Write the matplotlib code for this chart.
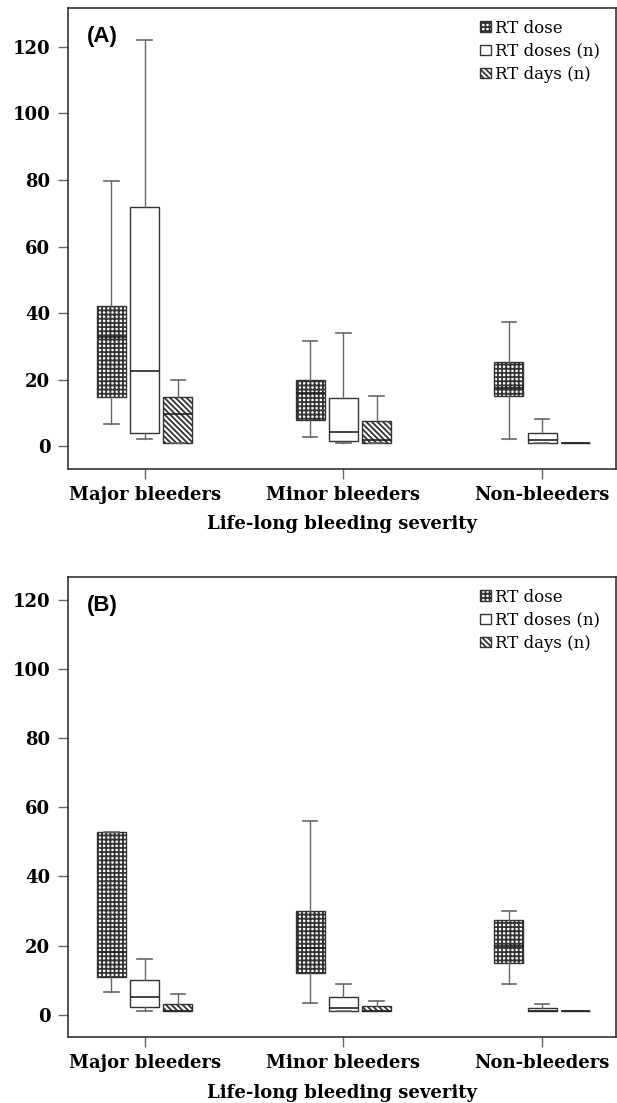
import numpy as np
import matplotlib
matplotlib.use("Agg")
import matplotlib.pyplot as plt
from matplotlib.patches import Patch
from matplotlib import rcParams

rcParams["hatch.linewidth"] = 1.3

categories = ["Major bleeders", "Minor bleeders", "Non-bleeders"]
series = ["RT dose", "RT doses (n)", "RT days (n)"]

# five-number summaries per category: whislo, q1, med, q3, whishi
rt_dose_A = [[6.6, 14.8, 32.8, 42.1, 79.8], [2.6, 7.8, 16.1, 20.0, 31.7], [2.0, 15.0, 17.5, 25.2, 37.2]]
rt_doses_A = [[2.0, 4.0, 22.5, 72.0, 122.0], [1.0, 1.4, 4.2, 14.4, 34.0], [1.0, 1.0, 1.9, 4.0, 8.0]]
rt_days_A = [[1.0, 1.0, 9.5, 14.8, 19.8], [1.0, 1.0, 1.9, 7.5, 14.9], [1.0, 1.0, 1.0, 1.0, 1.0]]

rt_dose_B = [[6.5, 11.0, 18.0, 53.0, 53.0], [3.5, 12.1, 19.4, 30.0, 56.2], [8.8, 15.0, 20.0, 27.4, 30.0]]
rt_doses_B = [[1.0, 2.1, 5.1, 10.0, 16.1], [1.0, 1.0, 2.0, 5.0, 9.0], [1.0, 1.0, 1.0, 2.0, 3.0]]
rt_days_B = [[1.0, 1.0, 1.0, 3.0, 5.9], [1.0, 1.0, 1.0, 2.6, 4.0], [1.0, 1.0, 1.0, 1.0, 1.0]]

hatches = ["++++", "", "\\\\\\\\\\\\"]
offsets = [-0.167, 0.0, 0.167]
BOXW = 0.146

TICKFONT = dict(family="DejaVu Serif", fontweight="bold", fontsize=13)


def to_stats(rows):
    return [dict(whislo=r[0], q1=r[1], med=r[2], q3=r[3], whishi=r[4], fliers=[]) for r in rows]


def draw_panel(ax, groups, letter, ylim):
    x = np.arange(len(categories))
    for k, rows in enumerate(groups):
        ax.bxp(to_stats(rows), positions=x + offsets[k], widths=BOXW,
               showfliers=False, patch_artist=True, capwidths=BOXW * 0.5,
               boxprops=dict(facecolor="white", edgecolor="#333333", linewidth=1.0,
                             hatch=hatches[k]),
               medianprops=dict(color="#222222", linewidth=1.2),
               whiskerprops=dict(color="#666666", linewidth=1.0),
               capprops=dict(color="#666666", linewidth=1.2))
    ax.set_xlim(-0.3875, 2.372)
    ax.set_ylim(*ylim)
    ax.set_yticks(np.arange(0, 121, 20))
    ax.set_xticks(x)
    ax.set_xticklabels(categories, **TICKFONT)
    for lab in ax.get_yticklabels():
        lab.set(**TICKFONT)
    ax.tick_params(axis="both", length=7.5, width=1, color="#666666", pad=5)
    for sp in ax.spines.values():
        sp.set_color("#333333")
        sp.set_linewidth(1.2)
    ax.set_xlabel("Life-long bleeding severity", labelpad=8, **TICKFONT)
    ax.text(0.035, 0.96, letter, transform=ax.transAxes, ha="left", va="top",
            fontsize=16, fontweight="bold", family="Liberation Sans")
    handles = [Patch(facecolor="white", edgecolor="#333333", hatch=h) for h in hatches]
    ax.legend(handles, series, loc="upper right", bbox_to_anchor=(0.988, 0.995),
              frameon=False, prop=dict(family="DejaVu Serif", size=12),
              handlelength=0.65, handleheight=0.6, handletextpad=0.25,
              labelspacing=0.37, borderaxespad=0.15)


fig = plt.figure(figsize=(6.17, 11.03), dpi=100)
axA = fig.add_axes([0.1097, 0.5748, 0.8887, 0.4179])
axB = fig.add_axes([0.1097, 0.0598, 0.8887, 0.4170])

draw_panel(axA, [rt_dose_A, rt_doses_A, rt_days_A], "(A)", (-6.9, 131.7))
draw_panel(axB, [rt_dose_B, rt_doses_B, rt_days_B], "(B)", (-6.5, 126.7))

fig.savefig("out.png", dpi=100)
plt.close(fig)
